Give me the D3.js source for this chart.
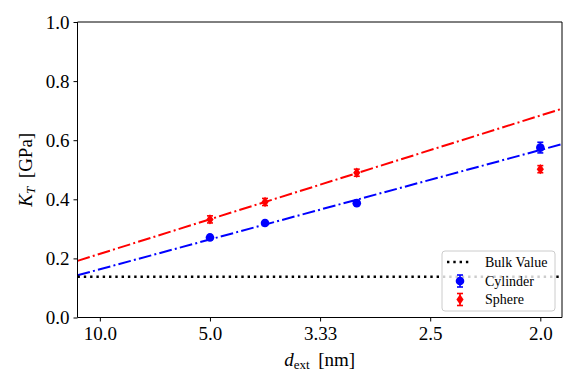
<!DOCTYPE html>
<html>
<head>
<meta charset="utf-8">
<script src="https://cdn.jsdelivr.net/npm/d3@7"></script>
<style>
  html, body { margin: 0; padding: 0; background: #fff; }
  svg { display: block; font-family: "Liberation Serif", "DejaVu Serif", serif; }
</style>
</head>
<body>
<svg id="chart" width="581" height="388"></svg>
<script>
// ---- data ----
const diameters = [5, 4, 3, 2];                 // d_ext [nm]
const cylinderValues = [0.271, 0.320, 0.387, 0.575];
const cylinderErrors = [0.007, 0.006, 0.007, 0.018];
const sphereValues = [0.332, 0.391, 0.490, 0.502];
const sphereErrors = [0.012, 0.012, 0.012, 0.012];
const bulkValue = [0.138];
// linear fits K = a + b * (1/d)
const cylinderFit = [0.0623, 1.009];
const sphereFit = [0.0984, 1.170];
const xTickLabels = ["10.0", "5.0", "3.33", "2.5", "2.0"];
const xTickValues = [10, 5, 10 / 3, 2.5, 2];
const yTicks = [0.0, 0.2, 0.4, 0.6, 0.8, 1.0];
const invDomain = [0.0797, 0.5197];

const svg = d3.select("#chart");
const L = 77.5, R = 562, T = 22, B = 317.5;

const x = d3.scaleLinear().domain(invDomain).range([L, R]);
const y = d3.scaleLinear().domain([0, 1]).range([B, T]);
const xd = d => x(1 / d);

// fit lines
const fits = [
  { p: cylinderFit, color: "#0000ff" },
  { p: sphereFit, color: "#ff0000" }
];
const plot = svg.append("g");
plot.append("defs").append("clipPath").attr("id", "clip")
  .append("rect").attr("x", L).attr("y", T).attr("width", R - L).attr("height", B - T);
const lineG = plot.append("g").attr("clip-path", "url(#clip)");
fits.forEach(f => {
  lineG.append("line")
    .attr("x1", x(invDomain[0])).attr("y1", y(f.p[0] + f.p[1] * invDomain[0]))
    .attr("x2", x(invDomain[1])).attr("y2", y(f.p[0] + f.p[1] * invDomain[1]))
    .attr("stroke", f.color).attr("stroke-width", 2)
    .attr("stroke-dasharray", "12.8,3.2,2,3.2");
});
// bulk line
lineG.append("line")
  .attr("x1", L).attr("x2", R)
  .attr("y1", y(bulkValue[0])).attr("y2", y(bulkValue[0]))
  .attr("stroke", "#000").attr("stroke-width", 2.4)
  .attr("stroke-dasharray", "2.4,3.9");

// error bars + markers
function drawSeries(vals, errs, color, shape) {
  const g = plot.append("g");
  diameters.forEach((d, i) => {
    const cx = xd(d), v = vals[i], e = errs[i];
    g.append("line").attr("x1", cx).attr("x2", cx)
      .attr("y1", y(v - e)).attr("y2", y(v + e))
      .attr("stroke", color).attr("stroke-width", 1.6);
    [v - e, v + e].forEach(w => g.append("line")
      .attr("x1", cx - 3).attr("x2", cx + 3).attr("y1", y(w)).attr("y2", y(w))
      .attr("stroke", color).attr("stroke-width", 1.6));
    if (shape === "circle") {
      g.append("circle").attr("cx", cx).attr("cy", y(v)).attr("r", 4.3).attr("fill", color);
    } else {
      const cy = y(v);
      g.append("path").attr("d", `M${cx},${cy - 5.2}L${cx + 3.6},${cy}L${cx},${cy + 5.2}L${cx - 3.6},${cy}Z`)
        .attr("fill", color);
    }
  });
}
drawSeries(cylinderValues, cylinderErrors, "#0000ff", "circle");
drawSeries(sphereValues, sphereErrors, "#ff0000", "diamond");

// axes
const xAxis = d3.axisBottom(x).tickValues(xTickValues.map(d => 1 / d))
  .tickFormat((d, i) => xTickLabels[i]).tickSize(4).tickPadding(5);
const yAxis = d3.axisLeft(y).tickValues(yTicks).tickFormat(d3.format(".1f"))
  .tickSize(4).tickPadding(4);
const gx = svg.append("g").attr("transform", `translate(0,${B})`).call(xAxis);
const gy = svg.append("g").attr("transform", `translate(${L},0)`).call(yAxis);
[gx, gy].forEach(g => {
  g.select(".domain").remove();
  g.selectAll("text").attr("font-size", 19).attr("fill", "#000")
    .attr("font-family", "Liberation Serif, serif");
  g.selectAll("line").attr("stroke", "#000");
});
gy.selectAll("text").attr("dy", "0.34em");

// frame
svg.append("line").attr("x1", L).attr("x2", L).attr("y1", T).attr("y2", B).attr("stroke", "#000");
svg.append("line").attr("x1", L).attr("x2", R).attr("y1", B).attr("y2", B).attr("stroke", "#000");
svg.append("line").attr("x1", L).attr("x2", R).attr("y1", T).attr("y2", T).attr("stroke", "#000");
svg.append("line").attr("x1", R).attr("x2", R).attr("y1", T).attr("y2", B).attr("stroke", "#000");

// axis labels
const xl = svg.append("text").attr("x", (L + R) / 2).attr("y", 366)
  .attr("text-anchor", "middle").attr("font-size", 19);
xl.append("tspan").attr("font-style", "italic").text("d");
xl.append("tspan").attr("font-size", 13).attr("dy", 3).text("ext");
xl.append("tspan").attr("dy", -3).text("\u2009 [nm]");

const yl = svg.append("text").attr("transform", `translate(32,${(T + B) / 2}) rotate(-90)`)
  .attr("text-anchor", "middle").attr("font-size", 19);
yl.append("tspan").attr("font-style", "italic").text("K");
yl.append("tspan").attr("font-style", "italic").attr("font-size", 13).attr("dy", 3).text("T");
yl.append("tspan").attr("dy", -3).text("\u2009 [GPa]");

// legend
const lg = svg.append("g");
lg.append("rect").attr("x", 442).attr("y", 251).attr("width", 113).attr("height", 60)
  .attr("rx", 3).attr("fill", "#fff").attr("fill-opacity", 0.8)
  .attr("stroke", "#cccccc").attr("stroke-width", 1);
const rows = [
  { label: "Bulk Value", type: "line", cy: 262 },
  { label: "Cylinder", type: "circle", color: "#0000ff", cy: 281 },
  { label: "Sphere", type: "diamond", color: "#ff0000", cy: 299.5 }
];
rows.forEach(r => {
  if (r.type === "line") {
    lg.append("line").attr("x1", 447).attr("x2", 472).attr("y1", r.cy).attr("y2", r.cy)
      .attr("stroke", "#000").attr("stroke-width", 2.4).attr("stroke-dasharray", "2.4,3.9");
  } else {
    const cx = 460;
    lg.append("line").attr("x1", cx).attr("x2", cx).attr("y1", r.cy - 6).attr("y2", r.cy + 6)
      .attr("stroke", r.color).attr("stroke-width", 1.6);
    [-6, 6].forEach(o => lg.append("line").attr("x1", cx - 3).attr("x2", cx + 3)
      .attr("y1", r.cy + o).attr("y2", r.cy + o).attr("stroke", r.color).attr("stroke-width", 1.6));
    if (r.type === "circle") {
      lg.append("circle").attr("cx", cx).attr("cy", r.cy).attr("r", 4.3).attr("fill", r.color);
    } else {
      lg.append("path").attr("d", `M${cx},${r.cy - 5.2}L${cx + 3.6},${r.cy}L${cx},${r.cy + 5.2}L${cx - 3.6},${r.cy}Z`)
        .attr("fill", r.color);
    }
  }
  lg.append("text").attr("x", 485).attr("y", r.cy + 4.5).attr("font-size", 14).text(r.label);
});
</script>
</body>
</html>
